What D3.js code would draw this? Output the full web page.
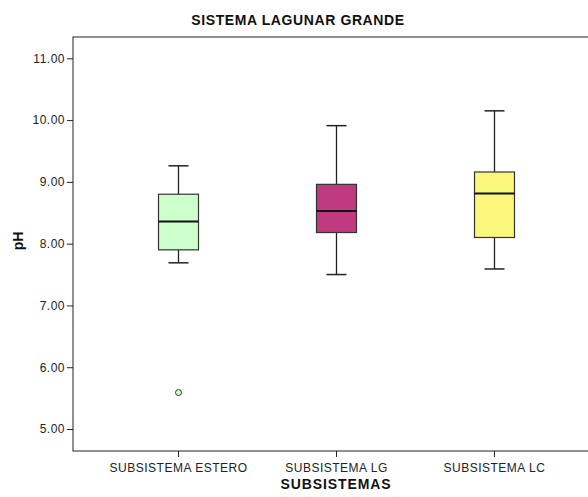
<!DOCTYPE html>
<html><head><meta charset="utf-8">
<script src="https://cdn.jsdelivr.net/npm/d3@7"></script>
<style>body{margin:0;background:#fff}svg{display:block}text{font-family:"Liberation Sans",Arial,sans-serif}</style>
</head><body>
<svg id="c" width="588" height="497"></svg>
<script>
const categories = ["SUBSISTEMA ESTERO", "SUBSISTEMA LG", "SUBSISTEMA LC"];
const whiskerLow = [7.69, 7.50, 7.59];
const q1 = [7.90, 8.18, 8.10];
const median = [8.36, 8.53, 8.81];
const q3 = [8.80, 8.96, 9.16];
const whiskerHigh = [9.26, 9.91, 10.15];
const outliers = [[5.59], [], []];
const fills = ["#ccffcc", "#bf3a7f", "#fbf77a"];
const yTicks = [5, 6, 7, 8, 9, 10, 11];

const svg = d3.select("#c");
const L = 73, R = 599, T = 37, B = 451;
const y = d3.scaleLinear().domain([4.644, 11.345]).range([B, T]);
const x = d3.scalePoint().domain(categories).range([L, R]).padding(0.665);

svg.append("rect").attr("x", L).attr("y", T).attr("width", R - L).attr("height", B - T)
  .attr("fill", "none").attr("stroke", "#222").attr("stroke-width", 1);

const yAxis = svg.append("g").attr("transform", `translate(${L},0)`)
  .call(d3.axisLeft(y).tickValues(yTicks).tickFormat(d3.format(".2f")).tickSize(6).tickPadding(2));
yAxis.select(".domain").remove();
yAxis.selectAll("line").attr("stroke", "#222");
yAxis.selectAll("text").attr("font-size", 12).attr("letter-spacing", 0.5).attr("fill", "#222");

const xAxis = svg.append("g").attr("transform", `translate(0,${B})`)
  .call(d3.axisBottom(x).tickSize(6).tickPadding(6));
xAxis.select(".domain").remove();
xAxis.selectAll("line").attr("stroke", "#222");
xAxis.selectAll("text").attr("font-size", 12).attr("letter-spacing", 0.5).attr("fill", "#222");

const bw = 40, cw = 20;
const g = svg.append("g");
categories.forEach((c, i) => {
  const cx = Math.round(x(c)) + 0.5;
  g.append("line").attr("x1", cx).attr("x2", cx).attr("y1", y(whiskerHigh[i])).attr("y2", y(q3[i]))
    .attr("stroke", "#222").attr("stroke-width", 1.3);
  g.append("line").attr("x1", cx).attr("x2", cx).attr("y1", y(q1[i])).attr("y2", y(whiskerLow[i]))
    .attr("stroke", "#222").attr("stroke-width", 1.3);
  [whiskerHigh[i], whiskerLow[i]].forEach(v => {
    g.append("line").attr("x1", cx - cw / 2).attr("x2", cx + cw / 2).attr("y1", y(v)).attr("y2", y(v))
      .attr("stroke", "#222").attr("stroke-width", 1.5);
  });
  g.append("rect").attr("x", cx - bw / 2).attr("y", y(q3[i])).attr("width", bw)
    .attr("height", y(q1[i]) - y(q3[i])).attr("fill", fills[i]).attr("stroke", "#333").attr("stroke-width", 1.2);
  g.append("line").attr("x1", cx - bw / 2).attr("x2", cx + bw / 2).attr("y1", y(median[i])).attr("y2", y(median[i]))
    .attr("stroke", "#111").attr("stroke-width", 2);
  outliers[i].forEach(v => {
    g.append("circle").attr("cx", cx).attr("cy", y(v)).attr("r", 3)
      .attr("fill", fills[i]).attr("stroke", "#333").attr("stroke-width", 1);
  });
});

svg.append("text").attr("x", 298).attr("y", 25).attr("text-anchor", "middle")
  .attr("font-size", 14).attr("letter-spacing", 0.6).attr("font-weight", "bold").attr("fill", "#111").text("SISTEMA LAGUNAR GRANDE");
svg.append("text").attr("x", (L + R) / 2).attr("y", 489).attr("text-anchor", "middle")
  .attr("font-size", 14).attr("letter-spacing", 0.9).attr("font-weight", "bold").attr("fill", "#111").text("SUBSISTEMAS");
svg.append("text").attr("transform", `translate(23,${(T + B) / 2 - 3}) rotate(-90)`).attr("text-anchor", "middle")
  .attr("font-size", 14).attr("font-weight", "bold").attr("fill", "#111").text("pH");
</script>
</body></html>
